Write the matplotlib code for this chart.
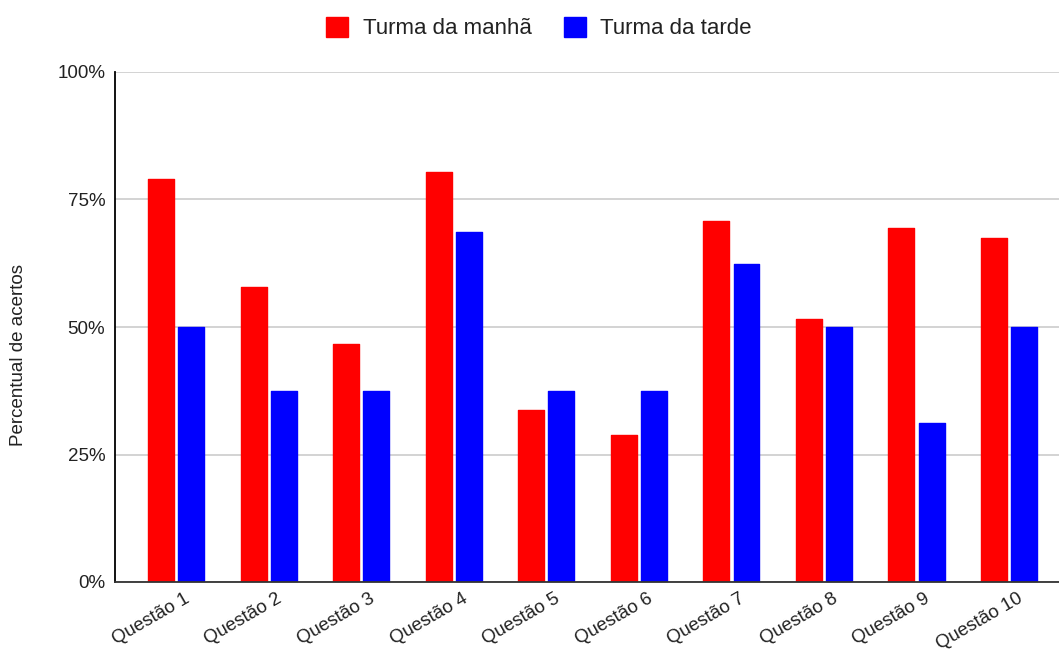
import matplotlib
matplotlib.use("Agg")
import matplotlib.pyplot as plt
import matplotlib.transforms as mtransforms
import numpy as np

questoes = ["Questão 1", "Questão 2", "Questão 3", "Questão 4", "Questão 5",
            "Questão 6", "Questão 7", "Questão 8", "Questão 9", "Questão 10"]
manha = [79.0, 57.8, 46.7, 80.4, 33.7, 28.8, 70.8, 51.6, 69.4, 67.5]
tarde = [50.0, 37.5, 37.5, 68.6, 37.5, 37.5, 62.4, 50.0, 31.2, 50.0]
yticks = [0, 25, 50, 75, 100]

plt.rcParams["font.family"] = ["Liberation Sans", "DejaVu Sans"]

fig = plt.figure(figsize=(10.59, 6.5), dpi=100)
ax = fig.add_axes([115 / 1059, 68 / 650, 944 / 1059, 510 / 650])

x = np.arange(len(questoes))
w = 0.28
ax.bar(x - 0.163, manha, width=w, color="#ff0000", label="Turma da manhã",
       zorder=3, edgecolor="#ff0000", linewidth=1, joinstyle="round")
ax.bar(x + 0.163, tarde, width=w, color="#0000ff", label="Turma da tarde",
       zorder=3, edgecolor="#0000ff", linewidth=1, joinstyle="round")

ax.set_xlim(-0.66, 9.54)
ax.set_ylim(0, 100)
ax.set_yticks(yticks)
ax.set_yticklabels([f"{v}%" for v in yticks])
ax.grid(axis="y", color="#cccccc", linewidth=1.2, zorder=0)
ax.tick_params(axis="y", length=0, pad=7, labelsize=13.5, labelcolor="#222222")
ax.tick_params(axis="x", length=0, pad=6, labelsize=13.5, labelcolor="#222222")

ax.set_xticks(x)
ax.set_xticklabels(questoes, rotation=30, ha="right", va="top",
                   rotation_mode="anchor")
offset = mtransforms.ScaledTranslation(8 / 100, 0, fig.dpi_scale_trans)
for lbl in ax.get_xticklabels():
    lbl.set_transform(lbl.get_transform() + offset)

for s in ["top", "right"]:
    ax.spines[s].set_visible(False)
ax.spines["left"].set_color("#000000")
ax.spines["bottom"].set_color("#333333")
ax.spines["left"].set_linewidth(1.3)
ax.spines["bottom"].set_linewidth(1.3)
ax.spines["left"].set_zorder(4)
ax.spines["bottom"].set_zorder(4)

fig.text(19 / 1059, 1 - 355 / 650, "Percentual de acertos", rotation=90,
         ha="center", va="center", fontsize=13.5, color="#222222")

fig.legend(loc="center", bbox_to_anchor=(539 / 1059, 1 - 28 / 650), ncol=2,
           frameon=False, fontsize=16, handlelength=1.0, handleheight=1.0,
           handletextpad=0.65, columnspacing=1.45, labelcolor="#222222")

fig.savefig("out.png", dpi=100)
